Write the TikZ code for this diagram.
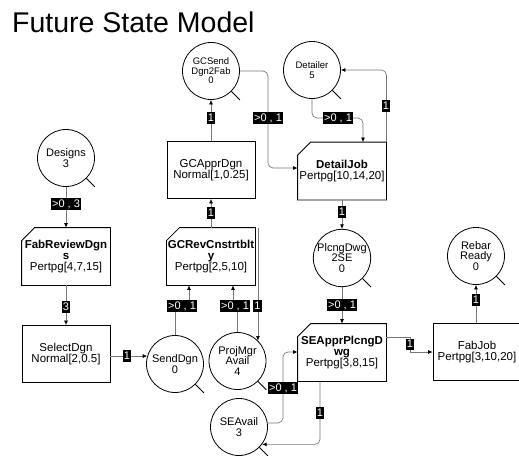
\documentclass[tikz,border=0pt]{standalone}
\usepackage{fontspec}
\setmainfont{Liberation Sans}
\usetikzlibrary{arrows.meta}
\definecolor{conn}{RGB}{120,120,120}

% outline of an activity box with a cut top-left corner
\newcommand{\chamferoutline}[1]{%
  \draw[line width=0.8pt] ([yshift=-13pt]#1.north west) -- ([xshift=13pt]#1.north west)
    -- (#1.north east) -- (#1.south east) -- (#1.south west) -- cycle;}

\begin{document}
\begin{tikzpicture}[x=1pt,y=-1pt,
  place/.style={circle,draw=black,line width=0.8pt,minimum size=57pt,inner sep=0pt,
    align=center,font=\fontsize{11}{10.5}\selectfont},
  smallplace/.style={place,font=\fontsize{9.5}{9.5}\selectfont},
  activity/.style={rectangle,draw=black,line width=0.8pt,minimum width=88pt,
    minimum height=57pt,inner sep=1pt,align=center,font=\fontsize{11.5}{11}\selectfont},
  pertbox/.style={activity,draw=none},
  tag/.style={fill=black,text=white,font=\fontsize{11}{11}\selectfont,
    inner xsep=1pt,inner ysep=0.8pt,text height=8pt,text depth=1.5pt},
  link/.style={draw=conn,line width=0.7pt,-{Latex[length=4.5pt,width=4pt,color=black]}},
  loupe/.style={draw=black,line width=0.8pt},
]
\useasboundingbox (0,0) rectangle (519,455);

% title
\node[anchor=base west,inner sep=0pt,font=\fontsize{28.5}{30}\selectfont] (title) at (12,32) {Future State Model};

% places (resources and queues)
\node[place] (des) at (66,158) {Designs\\3};
\node[smallplace] (gcs) at (211,71) {GCSend\\Dgn2Fab\\0};
\node[smallplace] (det) at (312,70) {Detailer\\5};
\node[place] (sd) at (175,364) {SendDgn\\0};
\node[place] (pm) at (237.5,361) {ProjMgr\\Avail\\4};
\node[place] (sea) at (239,427) {SEAvail\\3};
\node[place] (pd) at (342,258) {PlcngDwg\\2SE\\0};
\node[place] (rr) at (476,256) {Rebar\\Ready\\0};

\foreach \p in {des,gcs,det,sd,pm,sea,pd,rr}
  \draw[loupe] (\p.south east) -- ++(8.5,8.5);

% activities
\node[activity] (gca) at (211,170) {GCApprDgn\\Normal[1,0.25]};
\node[pertbox] (dj) at (342,171) {\textbf{DetailJob}\\Pertpg[10,14,20]};
\node[pertbox] (frd) at (66,256.5) {\textbf{FabReviewDgn}\\\textbf{s}\\Pertpg[4,7,15]};
\node[pertbox] (gcr) at (211,256.5) {\textbf{GCRevCnstrtblt}\\\textbf{y}\\Pertpg[2,5,10]};
\node[activity] (sel) at (66,354) {SelectDgn\\Normal[2,0.5]};
\node[pertbox] (sep) at (342,352.5) {\textbf{SEApprPlcngD}\\\textbf{wg}\\Pertpg[3,8,15]};
\node[activity] (fab) at (477,352) {FabJob\\Pertpg[3,10,20]};

\chamferoutline{dj}
\chamferoutline{frd}
\chamferoutline{gcr}
\chamferoutline{sep}

% connectors
\draw[link] (des.south) -- (frd.north);
\draw[link] (frd.south) -- (sel.north);
\draw[link] (sel.east |- sd.164) -- (sd.164);
\draw[link] (sd.north) -- (sd.north |- 0,306) -- (189,306) -- (189,0 |- gcr.south);
\draw[link] (pm.north) -- (pm.north |- 0,306) -- (233,306) -- (233,0 |- gcr.south);
\draw[link] (pm.north east |- gcr.north) -- (pm.north east);
\draw[link] (gcr.north) -- (gca.south);
\draw[link] (gca.north) -- (gcs.south);
\draw[link,rounded corners=5pt] (gcs.east) -| (268,168) -- (dj.west |- 0,168);
\draw[link,rounded corners=5pt] (det.south) |- (363,118) -- (363,0 |- dj.north);
\draw[link,rounded corners=5pt] (dj.north east) |- (det.east);
\draw[link] (dj.south) -- (pd.north);
\draw[link] (pd.south) -- (sep.north);
\draw[link,rounded corners=5pt] (sea.8) -| (283,352) -- (sep.west |- 0,352);
\draw[link,rounded corners=5pt] (sep.south -| 320,0) |- (sea.-37);
\draw[link] (sep.east |- 0,337) -- (410,337) -- (410,352) -- (fab.west);
\draw[link] (fab.north -| rr.south) -- (rr.south);

% arc weights
\node[tag] (w1) at (66,204) {>0 , 3};
\node[tag] (w2) at (66,307) {3};
\node[tag] (w3) at (127,356) {1};
\node[tag] (w4) at (182,306) {>0 , 1};
\node[tag] (w5) at (235,306) {>0 , 1};
\node[tag] (w6) at (257.5,306) {1};
\node[tag] (w7) at (211,213) {1};
\node[tag] (w8) at (211,118) {1};
\node[tag] (w9) at (268,118) {>0 , 1};
\node[tag] (w10) at (338,118) {>0 , 1};
\node[tag] (w11) at (386,106) {1};
\node[tag] (w12) at (342,212) {1};
\node[tag] (w13) at (342,305) {>0 , 1};
\node[tag] (w14) at (283,388) {>0 , 1};
\node[tag] (w15) at (320,413) {1};
\node[tag] (w16) at (410,344.5) {1};
\node[tag] (w17) at (476,300) {1};
\end{tikzpicture}
\end{document}
